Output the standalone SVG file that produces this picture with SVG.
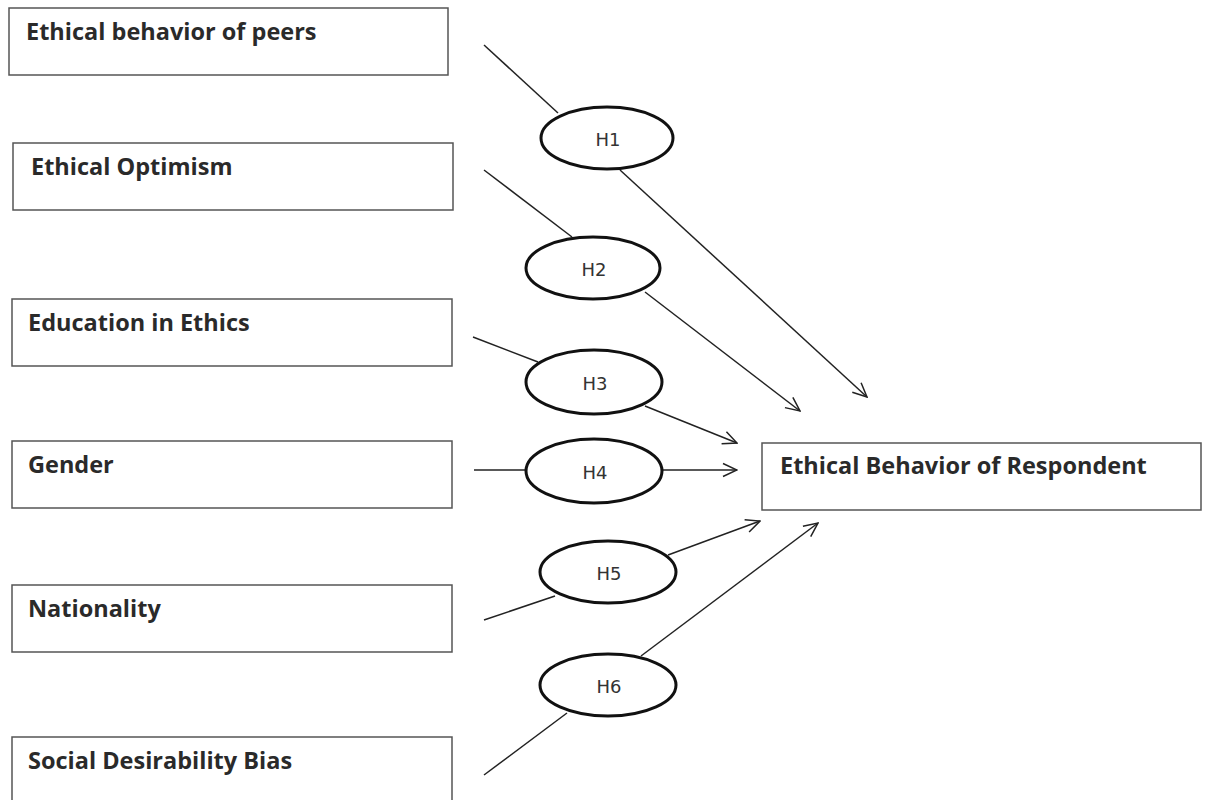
<svg xmlns="http://www.w3.org/2000/svg" width="1208" height="800" viewBox="0 0 1208 800">
<style>
.box{fill:#fff;stroke:#555;stroke-width:1.5}
.lbl{font-family:"Open Sans","Liberation Sans",sans-serif;font-weight:bold;font-size:23.5px;fill:#2a2a2a}
.hyp{fill:#fff;stroke:#111;stroke-width:3}
.htxt{font-family:"DejaVu Sans","Liberation Sans",sans-serif;font-size:18px;fill:#333;text-anchor:middle}
.ln{stroke:#222;stroke-width:1.5;fill:none}
</style>
<defs>
<marker id="arr" viewBox="0 0 16 16" refX="15" refY="8" markerWidth="16" markerHeight="16" markerUnits="userSpaceOnUse" orient="auto">
<path d="M1,1.5 L15,8 L1,14.5" fill="none" stroke="#222" stroke-width="1.5"/>
</marker>
</defs>
<rect width="1208" height="800" fill="#fff"/>
<g id="connectors">
<line class="ln" x1="484" y1="45" x2="558" y2="113"/>
<line class="ln" x1="620" y1="170" x2="867" y2="397" marker-end="url(#arr)"/>
<line class="ln" x1="484" y1="170" x2="572" y2="237"/>
<line class="ln" x1="645" y1="292" x2="800" y2="411" marker-end="url(#arr)"/>
<line class="ln" x1="473" y1="337" x2="538" y2="362"/>
<line class="ln" x1="645" y1="406" x2="737" y2="443" marker-end="url(#arr)"/>
<line class="ln" x1="474" y1="470" x2="526" y2="470"/>
<line class="ln" x1="662" y1="470" x2="737" y2="470" marker-end="url(#arr)"/>
<line class="ln" x1="484" y1="620" x2="555" y2="596"/>
<line class="ln" x1="668" y1="555" x2="760" y2="521" marker-end="url(#arr)"/>
<line class="ln" x1="484" y1="775" x2="567" y2="713"/>
<line class="ln" x1="641" y1="656" x2="818" y2="523" marker-end="url(#arr)"/>
</g>
<g id="n-peers"><rect class="box" x="9" y="8" width="439" height="67"/><text class="lbl" x="26" y="40">Ethical behavior of peers</text></g>
<g id="n-optimism"><rect class="box" x="13" y="143" width="440" height="67"/><text class="lbl" x="31" y="175">Ethical Optimism</text></g>
<g id="n-education"><rect class="box" x="12" y="299" width="440" height="67"/><text class="lbl" x="28" y="331">Education in Ethics</text></g>
<g id="n-gender"><rect class="box" x="12" y="441" width="440" height="67"/><text class="lbl" x="28" y="473">Gender</text></g>
<g id="n-nationality"><rect class="box" x="12" y="585" width="440" height="67"/><text class="lbl" x="28" y="617">Nationality</text></g>
<g id="n-social"><rect class="box" x="12" y="737" width="440" height="70"/><text class="lbl" x="28" y="769">Social Desirability Bias</text></g>
<g id="n-target"><rect class="box" x="762" y="443" width="439" height="67"/><text class="lbl" x="780" y="474">Ethical Behavior of Respondent</text></g>
<g id="h1"><ellipse class="hyp" cx="607" cy="138" rx="66" ry="31"/><text class="htxt" x="608" y="146">H1</text></g>
<g id="h2"><ellipse class="hyp" cx="593" cy="268" rx="67" ry="31"/><text class="htxt" x="594" y="276">H2</text></g>
<g id="h3"><ellipse class="hyp" cx="594" cy="382" rx="68" ry="32"/><text class="htxt" x="595" y="390">H3</text></g>
<g id="h4"><ellipse class="hyp" cx="594" cy="471" rx="68" ry="32"/><text class="htxt" x="595" y="479">H4</text></g>
<g id="h5"><ellipse class="hyp" cx="608" cy="572" rx="68" ry="31"/><text class="htxt" x="609" y="580">H5</text></g>
<g id="h6"><ellipse class="hyp" cx="608" cy="685" rx="68" ry="31"/><text class="htxt" x="609" y="693">H6</text></g>
</svg>
